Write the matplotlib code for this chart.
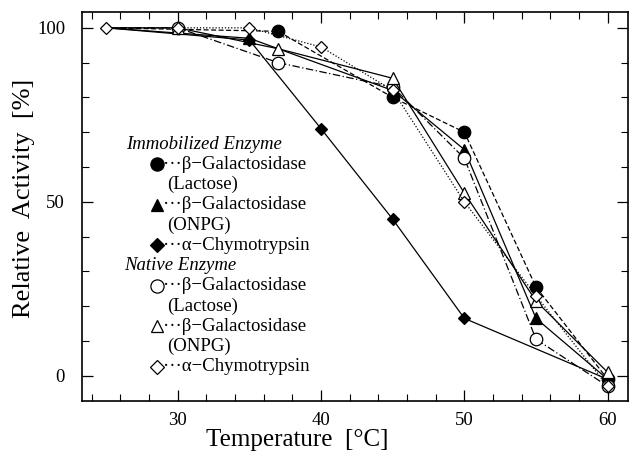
import matplotlib as mpl
import matplotlib.pyplot as plt
from matplotlib.ticker import MultipleLocator

mpl.rcParams.update({
    "font.family": ["Liberation Serif", "DejaVu Serif"],
    "xtick.direction": "in",
    "ytick.direction": "in",
    "xtick.top": True,
    "ytick.right": True,
})

# --- data ---
imm_gal_lac_t = [25, 37, 45, 50, 55, 60]
imm_gal_lac_v = [100, 99, 80, 70, 25.5, -1]

imm_gal_onpg_t = [25, 35, 45, 50, 55, 60]
imm_gal_onpg_v = [100, 97, 82, 65, 16.5, -1]

imm_chy_t = [25, 35, 40, 45, 50, 60]
imm_chy_v = [100, 96.5, 71, 45, 16.5, -1]

nat_gal_lac_t = [25, 30, 37, 45, 50, 55, 60]
nat_gal_lac_v = [100, 100, 90, 83, 62.5, 10.5, -3]

nat_gal_onpg_t = [25, 30, 37, 45, 50, 55, 60]
nat_gal_onpg_v = [100, 100, 94, 85.5, 52.5, 21.5, 1]

nat_chy_t = [25, 30, 35, 40, 45, 50, 55, 60]
nat_chy_v = [100, 100, 100, 94.5, 82, 50, 23, -3]

# (t, v, marker, face, linestyle, size, first marker shown)
series = [
    (imm_gal_lac_t, imm_gal_lac_v, "o", "black", (0, (4, 2)), 9, 1),
    (imm_gal_onpg_t, imm_gal_onpg_v, "^", "black", "-", 8, 1),
    (imm_chy_t, imm_chy_v, "D", "black", "-", 6, 1),
    (nat_gal_lac_t, nat_gal_lac_v, "o", "white", (0, (6, 2, 1, 2)), 9, 1),
    (nat_gal_onpg_t, nat_gal_onpg_v, "^", "white", "-", 8, 1),
    (nat_chy_t, nat_chy_v, "D", "white", (0, (1, 1.5)), 6, 0),
]

fig = plt.figure(figsize=(6.29, 4.55), dpi=100)
ax = fig.add_axes([0.130, 0.119, 0.868, 0.855])

for t, v, m, fc, ls, ms, first in series:
    ax.plot(t, v, linestyle=ls, color="black", linewidth=0.9,
            marker=m, markersize=ms, markerfacecolor=fc,
            markeredgecolor="black", markeredgewidth=0.9,
            markevery=list(range(first, len(t))))

ax.set_xlim(23.3, 61.4)
ax.set_ylim(-7.2, 104.6)
ax.set_xticks([30, 40, 50, 60])
ax.set_yticks([0, 50, 100])
ax.xaxis.set_minor_locator(MultipleLocator(2))
ax.yaxis.set_minor_locator(MultipleLocator(10))
ax.tick_params(which="major", length=8, width=0.9, labelsize=13.5)
ax.tick_params(axis="x", which="major", pad=8)
ax.tick_params(axis="y", which="major", pad=12)
ax.tick_params(which="minor", length=5, width=0.8)
for s in ax.spines.values():
    s.set_linewidth(1.2)

ax.set_xlabel("Temperature  [°C]", fontsize=18)
ax.xaxis.set_label_coords(0.394, -0.072)
ax.set_ylabel("Relative  Activity  [%]", fontsize=19)
ax.yaxis.set_label_coords(-0.085, 0.52)

# --- legend drawn as text block ---
legend_rows = [
    ("Immobilized Enzyme", None, None),
    ("β−Galactosidase", "o", "black"),
    ("(Lactose)", None, None),
    ("β−Galactosidase", "^", "black"),
    ("(ONPG)", None, None),
    ("α−Chymotrypsin", "D", "black"),
    ("Native Enzyme", None, None),
    ("β−Galactosidase", "o", "white"),
    ("(Lactose)", None, None),
    ("β−Galactosidase", "^", "white"),
    ("(ONPG)", None, None),
    ("α−Chymotrypsin", "D", "white"),
]
y0, dy = 0.660, 0.0520
for i, (txt, m, fc) in enumerate(legend_rows):
    y = y0 - i * dy
    if txt.endswith("Enzyme"):
        x = 0.082 if i == 0 else 0.078
        ax.text(x, y, txt, transform=ax.transAxes, fontsize=13.5,
                style="italic", va="center", ha="left")
    elif m is None:
        ax.text(0.157, y, txt, transform=ax.transAxes, fontsize=13.5,
                va="center", ha="left")
    else:
        ms = {"o": 9.5, "^": 8.5, "D": 7}[m]
        ax.plot([0.137], [y], marker=m, markersize=ms, markerfacecolor=fc,
                markeredgecolor="black", markeredgewidth=0.9,
                transform=ax.transAxes, clip_on=False)
        ax.text(0.148, y, "···" + txt, transform=ax.transAxes, fontsize=13.5,
                va="center", ha="left")

fig.savefig("out.png", dpi=100)
